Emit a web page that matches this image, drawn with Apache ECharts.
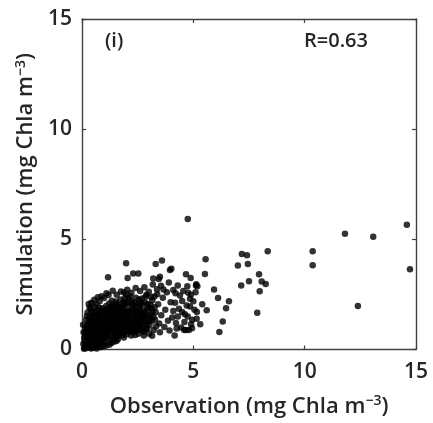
<!DOCTYPE html>
<html>
<head>
<meta charset="utf-8">
<script src="https://cdn.jsdelivr.net/npm/echarts@6/dist/echarts.min.js"></script>
<style>html,body{margin:0;padding:0;background:#fff}#c{width:433px;height:423px}</style>
</head>
<body>
<div id="c"></div>
<script>
// ---- data: [observation, simulation] in mg Chla m^-3 ----
const coreCloud = [
[0.62,1.13],[1.47,0.71],[0.33,0.48],[2.14,1.62],[0.91,1.87],[1.76,0.94],[0.18,0.83],[1.23,1.36],[2.58,1.18],[0.77,0.27],
[1.95,2.08],[0.44,1.62],[1.08,0.56],[2.81,1.74],[0.56,0.91],[1.63,1.49],[0.29,1.21],[2.37,0.88],[1.34,2.21],[0.85,0.69],
[1.12,1.74],[0.23,0.14],[2.02,1.27],[0.68,1.78],[1.55,0.39],[0.95,1.05],[2.66,2.12],[0.41,0.22],[1.81,1.71],[1.29,0.98],
[0.52,1.44],[2.21,0.63],[0.74,0.52],[1.38,1.58],[3.05,1.41],[0.15,0.63],[1.69,1.09],[0.99,2.34],[2.47,1.52],[0.36,0.97],
[1.17,0.84],[1.88,0.55],[0.64,2.05],[2.93,0.97],[1.42,1.27],[0.81,1.32],[0.27,0.35],[2.09,2.31],[1.59,1.92],[1.03,0.37],
[0.48,0.74],[2.71,1.39],[1.26,1.91],[0.59,0.18],[1.91,1.38],[0.39,1.83],[2.29,1.84],[0.87,0.88],[1.51,0.81],[3.31,1.69],
[0.21,1.04],[1.73,2.27],[1.06,1.49],[2.53,0.72],[0.71,1.58],[1.35,0.49],[0.43,1.28],[2.18,1.07],[1.82,1.93],[0.94,0.44],
[0.31,0.62],[1.64,0.62],[2.86,2.41],[0.66,0.36],[1.21,1.14],[2.41,1.96],[0.53,1.95],[1.97,0.79],[0.11,0.39],[1.44,2.02],
[1.01,1.21],[2.62,0.95],[0.79,2.19],[1.57,1.21],[0.37,1.47],[3.16,2.24],[1.15,0.62],[2.04,1.53],[0.58,0.57],[1.79,1.28],
[0.25,1.68],[1.31,0.76],[2.34,1.32],[0.89,1.59],[1.66,1.76],[0.46,0.31],[2.77,0.81],[1.09,1.97],[0.69,1.02],[1.99,2.49],
[0.14,0.21],[1.48,1.04],[2.24,2.18],[0.83,0.98],[1.37,1.77],[0.51,1.17],[3.47,1.18],[1.92,1.12],[0.35,0.09],[1.19,2.47],
[2.49,1.69],[0.73,1.26],[1.61,0.46],[0.96,0.63],[2.12,0.91],[0.42,2.12],[1.27,1.65],[2.98,1.89],[0.61,0.79],[1.84,1.56],
[0.19,1.35],[1.41,0.57],[2.57,2.27],[1.04,1.33],[0.76,1.91],[1.71,0.73],[0.28,0.79],[2.27,1.43],[1.13,0.99],[0.55,2.26],
[1.94,1.72],[0.86,1.16],[3.22,0.89],[1.53,1.61],[0.38,0.56],[2.09,1.18],[1.24,0.43],[0.67,1.47],[2.69,1.61],[1.46,1.43],
[0.93,0.24],[1.77,2.04],[0.47,1.06],[2.39,0.66],[1.11,1.62],[0.63,0.65],[1.86,0.99],[0.24,0.51],[2.84,1.24],[1.33,1.06],
[0.78,1.66],[1.62,1.99],[2.16,2.41],[0.49,0.43],[1.02,0.79],[1.89,1.46],[0.34,1.91],[2.44,1.11],[1.39,0.89],[0.72,0.94],
[1.56,1.32],[2.96,2.07],[0.57,1.35],[1.22,2.09],[2.01,0.69],[0.88,2.42],[1.68,1.16],[0.16,0.94],[2.31,2.02],[1.07,1.27],
[0.45,1.71],[1.83,0.66],[2.64,1.48],[0.99,0.52],[1.49,1.83],[0.3,1.12],[2.19,0.85],[0.82,0.41],[1.28,1.51],[3.38,2.51],
[0.65,1.22],[1.74,1.39],[0.54,0.26],[2.07,1.96],[1.16,0.69],[0.4,0.84],[2.52,1.02],[0.92,1.43],[1.58,0.98],[0.22,1.52],
[1.93,2.33],[1.36,1.23],[0.7,0.47],[2.74,2.01],[1.05,1.83],[0.5,0.59],[1.7,1.68],[2.26,1.19],[0.84,1.09],[1.43,0.35],
[3.09,1.58],[0.6,1.69],[1.25,0.86],[1.97,1.21],[0.32,0.27],[2.42,2.35],[1.14,1.41],[0.75,0.75],[1.65,1.54],[0.44,1.01],
[2.13,1.71],[0.9,1.29],[1.52,2.18],[2.89,1.12],[0.26,0.71],[1.32,1.85],[0.79,0.59],[1.8,1.03],[2.59,1.83],[1.0,1.69],
[0.58,1.51],[1.45,1.14],[2.33,0.97],[0.13,0.08],[1.85,1.83],[0.97,0.73],[1.2,1.01],[2.0,1.44],[0.62,0.33],[1.6,1.06]
];
const coreFill = [
[1.52,0.58],[1.78,1.22],[2.06,0.98],[2.32,1.55],[2.55,1.32],[2.72,1.05],[2.95,1.52],[3.12,1.85],[1.67,1.87],[1.98,1.65],
[2.23,2.08],[2.46,0.85],[2.63,1.72],[2.87,1.58],[3.03,1.11],[1.42,1.66],[1.72,0.83],[2.11,1.41],[2.36,1.23],[2.58,1.95],
[2.83,2.15],[3.21,1.47],[1.59,1.38],[1.87,2.17],[2.17,1.28],[2.42,1.72],[2.66,1.21],[2.91,1.78],[1.47,0.93],[1.73,1.52],
[2.03,0.86],[2.28,1.66],[2.51,1.43],[2.76,1.49],[3.08,2.03],[1.33,1.38],[1.61,1.74],[1.93,1.33],[2.21,1.77],[2.47,1.27],
[2.7,2.32],[2.99,1.27],[1.54,2.08],[1.8,0.76],[2.08,1.73],[2.35,2.15],[2.61,1.08],[2.88,0.92],[3.17,1.7],[1.38,1.97],
[1.66,0.88],[1.96,1.02],[2.25,0.96],[2.54,2.08],[2.79,1.33],[3.1,2.38],[1.49,1.55],[1.76,1.62],[2.0,2.15],[2.29,0.78],
[0.35,1.35],[0.55,1.08],[0.74,1.42],[0.93,0.92],[1.18,1.55],[0.46,0.67],[0.68,0.84],[0.88,1.75],[1.1,1.13],[1.25,1.78]
];
const nearZero = [
[0.09,0.03],[0.18,0.06],[0.27,0.12],[0.41,0.04],[0.52,0.09],[0.66,0.05],[0.33,0.19],[0.48,0.16],[0.72,0.14],[0.85,0.11],
[1.06,0.17],[1.22,0.21],[0.06,0.25],[0.1,0.55],[0.07,0.78],[0.05,1.12],[1.31,0.28],[0.95,0.16]
];
const upperFringe = [
[0.3,2.07],[0.71,2.37],[1.1,2.55],[1.38,2.67],[1.56,2.49],[1.75,2.63],[2.03,2.71],[2.22,2.57],[2.41,2.79],[2.61,2.66],
[2.8,2.83],[3.0,2.62],[3.18,2.95],[3.37,2.73],[3.55,2.89],[2.9,2.48],[1.89,2.59],
[1.17,3.28],[1.98,3.92],[2.05,3.24],[2.3,3.45],[2.53,3.45],[3.31,3.88],[3.59,4.04],[3.2,3.22],[3.45,3.2],[3.5,3.3],
[3.9,3.04],[3.95,3.61],[3.25,2.4]
];
const midRight = [
[3.28,1.35],[3.42,2.05],[3.5,0.78],[3.56,1.55],[3.63,2.35],[3.7,1.02],[3.74,1.8],[3.81,2.6],[3.86,1.3],[3.93,0.86],
[3.98,2.15],[3.33,1.05],[3.12,1.29],[3.02,0.72],[3.26,1.92],[3.66,2.72],[3.15,0.62],[2.78,0.64],[2.68,0.87]
];
const sparse = [
[4.01,3.66],[4.05,1.45],[4.1,2.7],[4.1,1.75],[4.16,0.63],[4.18,2.12],[4.2,2.55],[4.22,1.2],[4.25,0.95],[4.3,2.9],
[4.3,1.5],[4.35,1.85],[4.4,2.45],[4.45,1.0],[4.5,2.2],[4.5,1.7],[4.55,2.65],[4.59,0.88],[4.6,1.25],[4.62,1.6],
[4.67,3.42],[4.67,0.88],[4.7,2.0],[4.73,2.87],[4.75,1.5],[4.77,2.57],[4.8,0.89],[4.85,1.95],[4.85,2.3],[4.88,3.24],
[4.89,2.49],[4.9,1.15],[4.94,0.97],[4.95,1.35],[5.0,2.19],[5.05,1.8],[5.1,2.6],[5.12,2.9],[5.13,2.96],[5.15,1.4],
[5.16,1.7],[5.18,2.87],[5.31,1.15],[5.40,2.05],[5.52,3.43],[5.55,4.10],[5.60,1.78],[5.93,2.72],[6.11,2.34],[6.17,0.79],
[6.32,1.27],[6.47,1.87],[6.60,2.19]
];
const outliers = [
[4.75,5.92],[7.00,3.81],[7.15,2.90],[7.18,4.34],[7.41,4.28],[7.45,3.88],[7.50,3.10],[7.87,1.67],[7.95,3.42],[7.98,2.64],
[8.07,3.09],[8.25,2.97],[8.34,4.46],[10.36,4.46],[10.36,3.82],[11.81,5.25],[12.39,1.97],[13.08,5.12],[14.59,5.66],[14.73,3.64]
];
const axisTicks = [0, 5, 10, 15];
const panelLabel = '(i)';
const corrLabel = 'R=0.63';

const samples = coreCloud.concat(coreFill, nearZero, upperFringe, midRight, sparse, outliers);

const FONT = '"Open Sans", "DejaVu Sans", sans-serif';
const TXT = '#262626';
const AX = '#404040';

function axisBase(pos, showLabel) {
  return {
    type: 'value', position: pos,
    min: axisTicks[0], max: axisTicks[axisTicks.length - 1], interval: axisTicks[1] - axisTicks[0],
    axisLine: {show: true, onZero: false, lineStyle: {color: AX, width: 1.4}},
    axisTick: {show: true, inside: true, length: 4, lineStyle: {color: AX, width: 1.2}},
    splitLine: {show: false},
    axisLabel: {show: showLabel, color: TXT, fontFamily: FONT, fontSize: 21, fontWeight: 600, margin: 12}
  };
}

const chart = echarts.init(document.getElementById('c'), null, {renderer: 'canvas'});
const richName = {
  rich: {
    a: {fontFamily: FONT, fontSize: 22, fontWeight: 600, color: TXT},
    s: {fontFamily: FONT, fontSize: 14, fontWeight: 600, color: TXT, padding: [0, 0, 11, 0]}
  }
};
const xMain = axisBase('bottom', true);
xMain.name = '{a|Observation (mg Chla m}{s|−3}{a|)}';
xMain.nameLocation = 'middle';
xMain.nameGap = 45;
xMain.nameTextStyle = richName;
const yMain = axisBase('left', true);
yMain.axisLabel.margin = 10;
yMain.name = '{a|Simulation (mg Chla m}{s|−3}{a|)}';
yMain.nameLocation = 'middle';
yMain.nameGap = 42;
yMain.nameRotate = 90;
yMain.nameTextStyle = richName;

chart.setOption({
  animation: false,
  backgroundColor: '#fff',
  grid: {left: 82, right: 17, top: 19, bottom: 69, containLabel: false},
  xAxis: [xMain, axisBase('top', false)],
  yAxis: [yMain, axisBase('right', false)],
  graphic: [
    {type: 'text', left: 105, top: 31, style: {text: panelLabel, font: '600 20px ' + FONT, fill: TXT}},
    {type: 'text', left: 304, top: 31, style: {text: corrLabel, font: '600 20px ' + FONT, fill: TXT}}
  ],
  series: [{
    type: 'scatter', xAxisIndex: 0, yAxisIndex: 0,
    data: samples, symbolSize: 6.5,
    itemStyle: {color: '#000', opacity: 0.8}
  }]
});
</script>
</body>
</html>
